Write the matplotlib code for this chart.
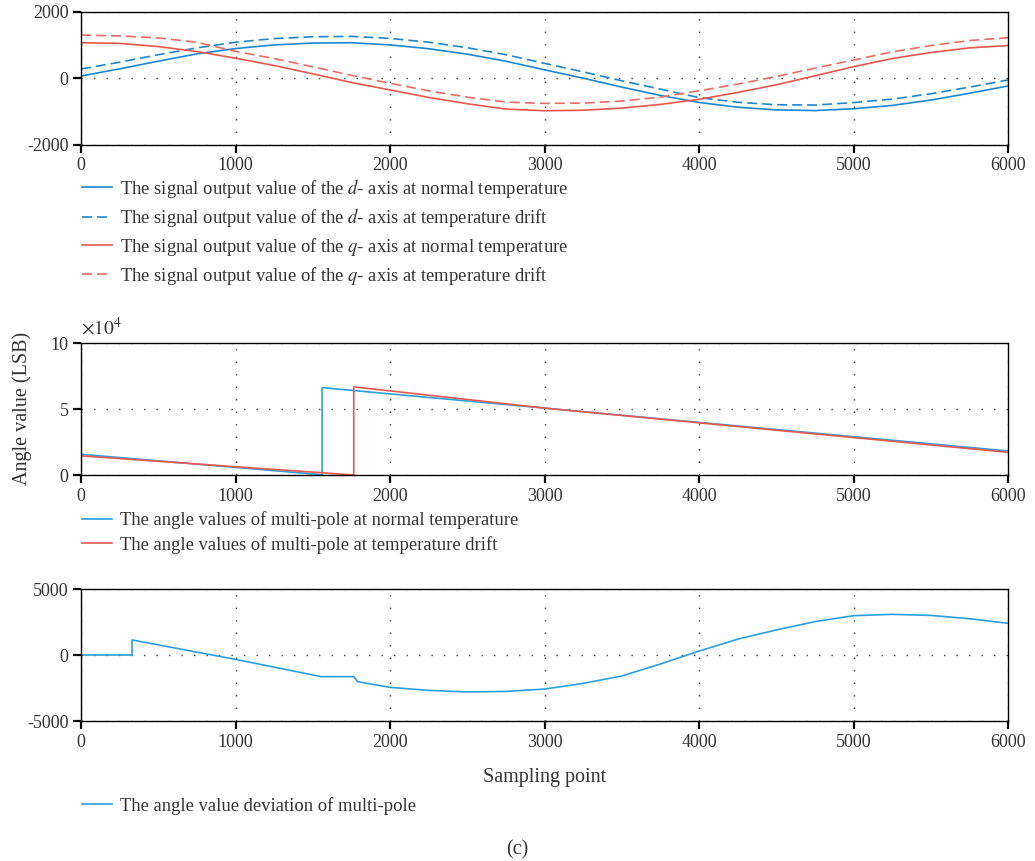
import matplotlib
matplotlib.use("Agg")
import matplotlib.pyplot as plt
from matplotlib.ticker import FuncFormatter

plt.rcParams['font.family'] = ['Liberation Serif', 'DejaVu Serif']
plt.rcParams['mathtext.fontset'] = 'stix'
plt.rcParams['axes.unicode_minus'] = False

# sampling points for the smooth d/q curves
x_dq = [0, 250, 500, 750, 1000, 1250, 1500, 1750, 2000, 2250, 2500, 2750, 3000,
        3250, 3500, 3750, 4000, 4250, 4500, 4750, 5000, 5250, 5500, 5750, 6000]
d_normal = [75, 290, 520, 740, 900, 1010, 1065, 1075, 1010, 895, 730, 520, 260,
            10, -260, -510, -720, -865, -945, -965, -910, -810, -650, -445, -225]
d_drift = [285, 490, 715, 920, 1090, 1200, 1255, 1265, 1205, 1090, 925, 715, 455,
           200, -70, -320, -575, -715, -790, -800, -725, -620, -460, -260, -45]
q_normal = [1075, 1055, 960, 810, 610, 390, 140, -120, -345, -570, -760, -920, -970,
            -955, -890, -780, -626, -420, -190, 80, 355, 600, 780, 920, 990]
q_drift = [1305, 1280, 1220, 1090, 815, 600, 350, 95, -145, -370, -560, -710, -750,
           -740, -680, -560, -370, -170, 60, 310, 555, 800, 990, 1140, 1225]

# multi-pole angle (LSB)
x_ang_normal = [0, 1560, 1560, 3000, 6000]
ang_normal = [15700, 200, 66200, 50700, 18200]
x_ang_drift = [0, 1765, 1765, 3000, 6000]
ang_drift = [14500, 0, 66800, 50700, 17200]

# angle deviation
x_dev = [0, 330, 330, 1000, 1555, 1765, 1790, 2000, 2250, 2500, 2750, 3000, 3250,
         3500, 3750, 4000, 4250, 4500, 4750, 5000, 5250, 5500, 5750, 6000]
dev = [0, 0, 1140, -330, -1640, -1640, -2020, -2450, -2680, -2800, -2760, -2580,
       -2150, -1590, -680, 300, 1200, 1900, 2530, 2980, 3080, 3000, 2750, 2400]

xticks = [0, 1000, 2000, 3000, 4000, 5000, 6000]

blue = '#1b87d2'
blue2 = '#2a9fe0'
red = '#e8574c'
red2 = '#ec6c62'

fig = plt.figure(figsize=(10.35, 8.61), dpi=100)
ax1 = fig.add_axes([0.0783, 0.8316, 0.8957, 0.1545])
ax2 = fig.add_axes([0.0783, 0.4483, 0.8957, 0.1533])
ax3 = fig.add_axes([0.0783, 0.1626, 0.8957, 0.1533])


def style(ax, yticks):
    ax.set_xlim(0, 6000)
    ax.set_xticks(xticks)
    ax.set_yticks(yticks)
    ax.set_ylim(yticks[0], yticks[-1])
    for s in ax.spines.values():
        s.set_linewidth(1.0)
    ax.tick_params(direction='out', length=6, width=1.6, labelsize=13,
                   labelcolor='#333333', top=False, right=False, pad=3)
    ax.grid(True, color='#444444', linestyle=(0, (1, 8)), linewidth=1.0)
    ax.set_axisbelow(True)


ax1.plot(x_dq, d_normal, color=blue, lw=1.2,
         label='The signal output value of the $d$- axis at normal temperature')
ax1.plot(x_dq, d_drift, color=blue, lw=1.2, ls=(0, (6, 3)),
         label='The signal output value of the $d$- axis at temperature drift')
ax1.plot(x_dq, q_normal, color=red, lw=1.2,
         label='The signal output value of the $q$- axis at normal temperature')
ax1.plot(x_dq, q_drift, color=red2, lw=1.2, ls=(0, (6, 3)),
         label='The signal output value of the $q$- axis at temperature drift')
style(ax1, [-2000, 0, 2000])

ax2.plot(x_ang_normal, ang_normal, color=blue2, lw=1.2,
         label='The angle values of multi-pole at normal temperature')
ax2.plot(x_ang_drift, ang_drift, color=red, lw=1.2,
         label='The angle values of multi-pole at temperature drift')
style(ax2, [0, 50000, 100000])
ax2.yaxis.set_major_formatter(FuncFormatter(lambda v, p: '%d' % round(v / 1e4)))
ax2.text(0.0, 1.03, r'$\times10^4$', transform=ax2.transAxes, fontsize=14,
         ha='left', va='bottom', color='#333333')
fig.text(0.021, 0.526, 'Angle value (LSB)', rotation=90, ha='center', va='center',
         fontsize=14.5, color='#333333')

ax3.plot(x_dev, dev, color=blue2, lw=1.2,
         label='The angle value deviation of multi-pole')
style(ax3, [-5000, 0, 5000])

leg_kw = dict(loc='upper left', frameon=False, fontsize=13.4, borderpad=0,
              borderaxespad=0, handlelength=1.6, handletextpad=0.45,
              labelspacing=0.36, labelcolor='#333333')
fig.legend(handles=ax1.get_lines(), bbox_to_anchor=(0.079, 0.795), **leg_kw)
fig.legend(handles=ax2.get_lines(), bbox_to_anchor=(0.079, 0.406), **leg_kw)
fig.legend(handles=ax3.get_lines(), bbox_to_anchor=(0.079, 0.0745), **leg_kw)

fig.text(0.526, 0.0964, 'Sampling point', ha='center', va='center', fontsize=14.5,
         color='#333333')
fig.text(0.4995, 0.0128, '(c)', ha='center', va='center', fontsize=14.5,
         color='#333333')

fig.savefig('out.png', dpi=100)
